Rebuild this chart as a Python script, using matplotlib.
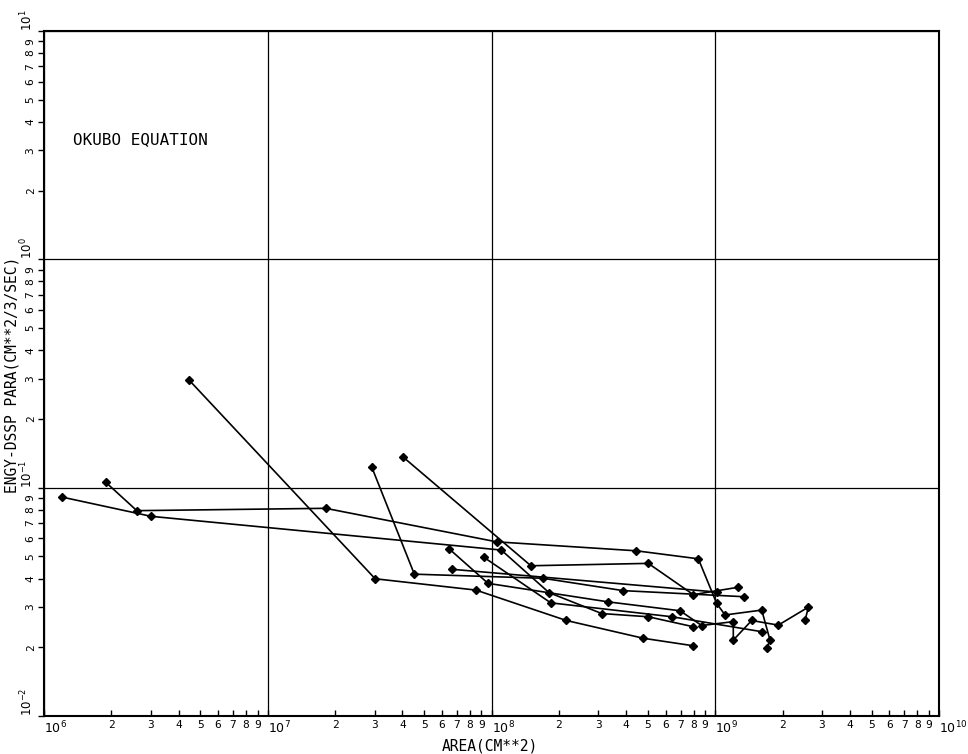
import matplotlib
matplotlib.use('Agg')
import matplotlib.pyplot as plt

plt.rcParams['font.family'] = ['DejaVu Sans Mono', 'DejaVu Sans']

# ---- data (area cm^2, energy dissipation parameter cm^(2/3)/sec) ----
s1_area = [1.20e6, 3.01e6, 1.106e8, 1.807e8, 3.11e8, 5.02e8, 7.98e8]
s1_eps = [0.0910, 0.0749, 0.0533, 0.0347, 0.0281, 0.0272, 0.0246]

s2_area = [1.89e6, 2.60e6, 1.815e7, 1.055e8, 4.44e8, 8.40e8, 1.015e9, 1.106e9, 1.613e9, 1.757e9, 1.698e9]
s2_eps = [0.1055, 0.0793, 0.0812, 0.0579, 0.0529, 0.0488, 0.0311, 0.0277, 0.0291, 0.0215, 0.0198]

s3_area = [4.45e6, 3.02e7, 8.52e7, 2.16e8, 4.77e8, 7.98e8]
s3_eps = [0.296, 0.0399, 0.0356, 0.0262, 0.0219, 0.0203]

s4_area = [2.92e7, 4.52e7, 1.70e8, 3.88e8, 1.34e9]
s4_eps = [0.1227, 0.0418, 0.0401, 0.0354, 0.0333]

s5_area = [4.03e7, 1.50e8, 5.02e8, 7.98e8, 1.26e9]
s5_eps = [0.1361, 0.0455, 0.0466, 0.0340, 0.0366]

s6_area = [6.46e7, 9.65e7, 3.33e8, 6.96e8, 8.70e8, 1.204e9, 1.204e9, 1.455e9, 1.913e9, 2.61e9, 2.52e9]
s6_eps = [0.0540, 0.0381, 0.0316, 0.0289, 0.0249, 0.0259, 0.0215, 0.0262, 0.0250, 0.0300, 0.0263]

s7_area = [9.26e7, 1.84e8, 6.41e8, 1.613e9]
s7_eps = [0.0495, 0.0313, 0.0272, 0.0234]

s8_area = [6.66e7, 1.015e9]
s8_eps = [0.0439, 0.0349]

series = [(s1_area, s1_eps), (s2_area, s2_eps), (s3_area, s3_eps), (s4_area, s4_eps),
          (s5_area, s5_eps), (s6_area, s6_eps), (s7_area, s7_eps), (s8_area, s8_eps)]

x_major = [1e6, 1e7, 1e8, 1e9, 1e10]
x_major_labels = [r'$10^{6}$', r'$10^{7}$', r'$10^{8}$', r'$10^{9}$', r'$10^{10}$']
y_major = [1e-2, 1e-1, 1e0, 1e1]
y_major_labels = [r'$10^{-2}$', r'$10^{-1}$', r'$10^{0}$', r'$10^{1}$']
minor_digits = ['2', '3', '4', '5', '6', '7', '8', '9']

title_text = 'OKUBO EQUATION'
x_label = 'AREA(CM**2)'
y_label = 'ENGY-DSSP PARA(CM**2/3/SEC)'

# ---- figure ----
fig = plt.figure(figsize=(9.68, 7.54), dpi=100)
ax = fig.add_axes([0.04545, 0.0504, 0.9246, 0.9085])
ax.set_xscale('log')
ax.set_yscale('log')
ax.set_xlim(1e6, 1e10)
ax.set_ylim(1e-2, 1e1)

for xs, ys in series:
    ax.plot(xs, ys, color='black', lw=1.2, marker='D', ms=4, mfc='black', mec='black', zorder=3)

ax.grid(True, which='major', color='black', lw=0.9)
ax.grid(False, which='minor')
for sp in ax.spines.values():
    sp.set_linewidth(1.5)

x_minor = [int(d) * 10.0 ** e for e in range(6, 10) for d in minor_digits]
x_minor_labels = [d for e in range(6, 10) for d in minor_digits]
ax.set_xticks(x_major, labels=x_major_labels, ha='left')
ax.set_xticks(x_minor, labels=x_minor_labels, minor=True)
ax.tick_params(axis='x', which='both', direction='in', length=4, width=1, pad=3, labelsize=8)
ax.tick_params(axis='x', which='major', labelsize=9)

y_minor = [int(d) * 10.0 ** e for e in range(-2, 1) for d in minor_digits]
y_minor_labels = [d for e in range(-2, 1) for d in minor_digits]
ax.set_yticks(y_major, labels=y_major_labels, rotation=90, va='bottom')
ax.set_yticks(y_minor, labels=y_minor_labels, minor=True, rotation=90, va='center')
ax.tick_params(axis='y', which='both', direction='out', length=4, width=1, pad=2, labelsize=8)
ax.tick_params(axis='y', which='major', labelsize=8.5)

ax.text(0.0324, 0.841, title_text, transform=ax.transAxes, fontsize=11.5,
        ha='left', va='center')

fig.text(12 / 968, 1 - 375 / 754, y_label, rotation=90, ha='center', va='center', fontsize=10.5)
fig.text(490 / 968, 1 - 746 / 754, x_label, ha='center', va='center', fontsize=10.5)

fig.savefig('out.png', dpi=100)
